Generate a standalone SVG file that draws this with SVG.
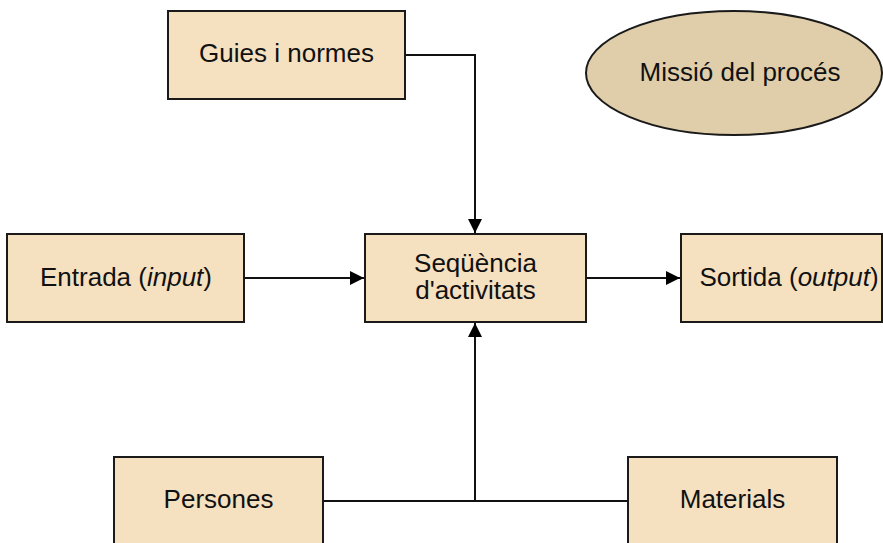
<svg xmlns="http://www.w3.org/2000/svg" width="883" height="543" viewBox="0 0 883 543">
  <defs>
    <style>
      .box { fill: #F5E0C0; stroke: #1a1a1a; stroke-width: 2; }
      .oval { fill: #E0CEAA; stroke: #1a1a1a; stroke-width: 2; }
      .lbl { font-family: "Liberation Sans", Arial, sans-serif; font-size: 26px; fill: #111; text-anchor: middle; }
      .wire { fill: none; stroke: #111; stroke-width: 2; }
    </style>
    <marker id="arrow" markerUnits="userSpaceOnUse" markerWidth="14" markerHeight="14" refX="14" refY="7" orient="auto">
      <path d="M0,0 L14,7 L0,14 z" fill="#000"/>
    </marker>
  </defs>

  <rect width="883" height="543" fill="#fff"/>

  <g id="connectors">
    <path class="wire" d="M405,55 H475 V233" marker-end="url(#arrow)"/>
    <path class="wire" d="M244,278 H364" marker-end="url(#arrow)"/>
    <path class="wire" d="M586,278 H680" marker-end="url(#arrow)"/>
    <path class="wire" d="M323,501 H628"/>
    <path class="wire" d="M475,501 V323" marker-end="url(#arrow)"/>
  </g>

  <g id="guies">
    <rect class="box" x="168" y="11" width="237" height="88"/>
    <text class="lbl" x="286.5" y="62">Guies i normes</text>
  </g>

  <g id="missio">
    <ellipse class="oval" cx="734" cy="73" rx="148" ry="62"/>
    <text class="lbl" x="740" y="81">Missió del procés</text>
  </g>

  <g id="entrada">
    <rect class="box" x="7" y="234" width="237" height="88"/>
    <text class="lbl" x="126" y="286">Entrada (<tspan font-style="italic">input</tspan>)</text>
  </g>

  <g id="sequencia">
    <rect class="box" x="365" y="234" width="221" height="88"/>
    <text class="lbl" x="475.5" y="272">Seqüència</text>
    <text class="lbl" x="475.5" y="299">d'activitats</text>
  </g>

  <g id="sortida">
    <rect class="box" x="681" y="234" width="201" height="88"/>
    <text class="lbl" x="789" y="286">Sortida (<tspan font-style="italic">output</tspan>)</text>
  </g>

  <g id="persones">
    <rect class="box" x="114" y="457" width="209" height="100"/>
    <text class="lbl" x="218.5" y="508">Persones</text>
  </g>

  <g id="materials">
    <rect class="box" x="628" y="457" width="209" height="100"/>
    <text class="lbl" x="732.5" y="508">Materials</text>
  </g>
</svg>
